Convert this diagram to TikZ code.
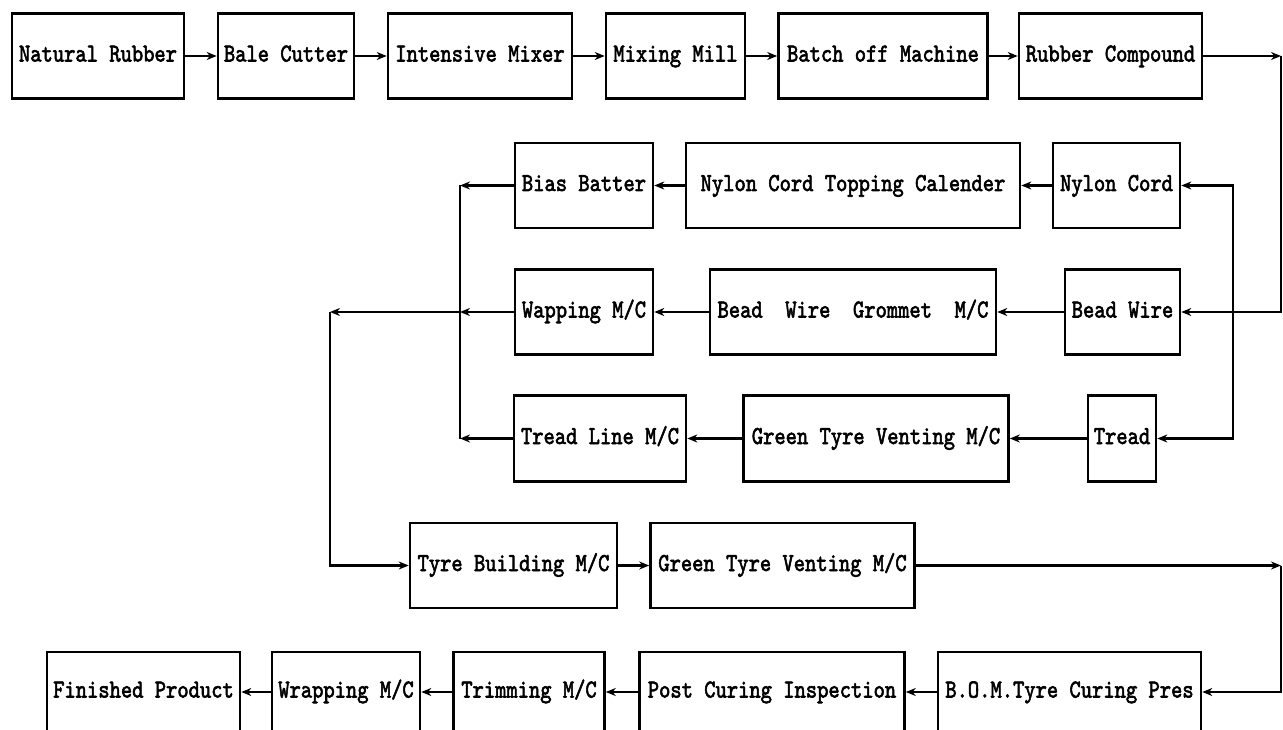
\documentclass[tikz,border=0pt]{standalone}
\usepackage{fontspec}
\newfontfamily\tyf{lmmono10-regular.otf}[FakeBold=2.5]
\usetikzlibrary{arrows.meta}
\newcommand\tx[1]{\scalebox{1}[1.2]{#1}}
\begin{document}
\begin{tikzpicture}[x=1pt,y=-1pt,
  box/.style={draw=black, line width=2.6pt, rectangle, inner sep=0pt,
    text height=15pt, text depth=4pt,
    font=\fontsize{21.5}{22}\selectfont\tyf\bfseries},
  arr/.style={line width=2.2pt, -{Stealth[length=10pt,width=8pt]}},
  ln/.style={line width=2.2pt}]
\fill[white] (0,0) rectangle (1283,730);
\useasboundingbox (0,0) rectangle (1283,730);
% Row 1
\node[box, minimum width=172pt, minimum height=85pt] (nr) at (98,56) {\tx{Natural Rubber}};
\node[box, minimum width=136pt, minimum height=85pt] (bc) at (286,56) {\tx{Bale Cutter}};
\node[box, minimum width=184pt, minimum height=85pt] (im) at (480,56) {\tx{Intensive Mixer}};
\node[box, minimum width=139pt, minimum height=85pt] (mm) at (675.5,56) {\tx{Mixing Mill}};
\node[box, minimum width=209pt, minimum height=85pt] (bm) at (883,56) {\tx{Batch off Machine}};
\node[box, minimum width=183pt, minimum height=85pt] (rc) at (1110.5,56) {\tx{Rubber Compound}};
% Row 2
\node[box, minimum width=138pt, minimum height=85pt] (bb) at (584,185.5) {\tx{Bias Batter}};
\node[box, minimum width=334pt, minimum height=85pt] (nct) at (853,185.5) {\tx{Nylon Cord Topping Calender}};
\node[box, minimum width=127pt, minimum height=85pt] (nc) at (1116.5,185.5) {\tx{Nylon Cord}};
% Row 3
\node[box, minimum width=138pt, minimum height=85pt] (wm) at (584,312) {\tx{Wapping M/C}};
\node[box, minimum width=286pt, minimum height=85pt] (bwg) at (853,312) {\tx{Bead~~Wire~~Grommet~~M/C}};
\node[box, minimum width=115pt, minimum height=85pt] (bw) at (1122.5,312) {\tx{Bead Wire}};
% Row 4
\node[box, minimum width=172pt, minimum height=86pt] (tl) at (600,438.5) {\tx{Tread Line M/C}};
\node[box, minimum width=265pt, minimum height=86pt] (gv1) at (876,438.5) {\tx{Green Tyre Venting M/C}};
\node[box, minimum width=68pt, minimum height=86pt] (tr) at (1122,438.5) {\tx{Tread}};
% Row 5
\node[box, minimum width=207pt, minimum height=85pt] (tb) at (513.5,565.5) {\tx{Tyre Building M/C}};
\node[box, minimum width=264pt, minimum height=85pt] (gv2) at (782.5,565.5) {\tx{Green Tyre Venting M/C}};
% Row 6
\node[box, minimum width=193pt, minimum height=80pt] (fp) at (143.5,692) {\tx{Finished Product}};
\node[box, minimum width=148pt, minimum height=80pt] (wr) at (346,692) {\tx{Wrapping M/C}};
\node[box, minimum width=151pt, minimum height=80pt] (trm) at (529,692) {\tx{Trimming M/C}};
\node[box, minimum width=265pt, minimum height=80pt] (pci) at (772,692) {\tx{Post Curing Inspection}};
\node[box, minimum width=263pt, minimum height=80pt] (bom) at (1069.5,692) {\tx{B.O.M.Tyre Curing Pres}};
% helper coordinates
\coordinate (R1) at (1281,56);
\coordinate (J) at (1233,312);
\coordinate (B1) at (460,185.5);
\coordinate (B2) at (460,312);
\coordinate (B3) at (460,438.5);
\coordinate (L2) at (330,312);
\coordinate (R5) at (1281,565.5);
% Row 1 connectors
\draw[arr] (nr.east) -- (bc.west);
\draw[arr] (bc.east) -- (im.west);
\draw[arr] (im.east) -- (mm.west);
\draw[arr] (mm.east) -- (bm.west);
\draw[arr] (bm.east) -- (rc.west);
\draw[arr] (rc.east) -- (R1);
\draw[arr] (R1) |- (bw.east);
\draw[arr] (J) |- (nc.east);
\draw[arr] (J) |- (tr.east);
% Row 2
\draw[arr] (nc.west) -- (nct.east);
\draw[arr] (nct.west) -- (bb.east);
\draw[arr] (bb.west) -- (B1);
% Row 3
\draw[arr] (bw.west) -- (bwg.east);
\draw[arr] (bwg.west) -- (wm.east);
\draw[arr] (wm.west) -- (B2);
\draw[arr] (B2) -- (L2);
% Row 4
\draw[arr] (tr.west) -- (gv1.east);
\draw[arr] (gv1.west) -- (tl.east);
\draw[arr] (tl.west) -- (B3);
\draw[ln] (B1) -- (B3);
% Row 5
\draw[arr] (L2) |- (tb.west);
\draw[arr] (tb.east) -- (gv2.west);
\draw[arr] (gv2.east) -- (R5);
\draw[arr] (R5) |- (bom.east);
% Row 6
\draw[arr] (bom.west) -- (pci.east);
\draw[arr] (pci.west) -- (trm.east);
\draw[arr] (trm.west) -- (wr.east);
\draw[arr] (wr.west) -- (fp.east);
\end{tikzpicture}
\end{document}
